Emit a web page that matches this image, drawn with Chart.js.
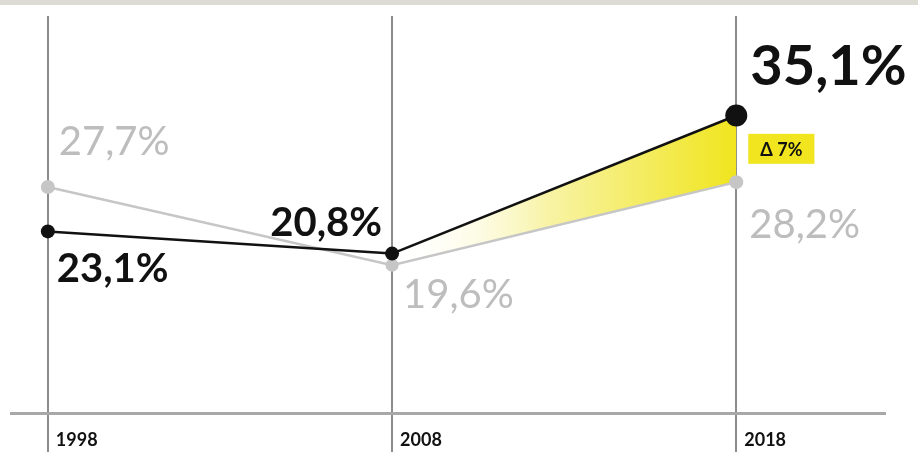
<!DOCTYPE html>
<html>
<head>
<meta charset="UTF-8">
<title>1998 – 2018</title>
<script src="https://cdn.jsdelivr.net/npm/chart.js"></script>
<style>
  html, body { margin: 0; padding: 0; background: #fff; }
  .wrap { position: relative; width: 918px; height: 452px; }
  .wrap canvas { display: block; }
  .band { position: absolute; left: 0; top: 0; width: 918px; height: 5px; background: #dcdcd5; }
</style>
</head>
<body>
<div class="wrap">
  <canvas id="chart" width="918" height="452"></canvas>
  <div class="band"></div>
</div>

<script>
const years = [1998, 2008, 2018];
const blackValues = [23.1, 20.8, 35.1];
const grayValues = [27.7, 19.6, 28.2];
const deltaText = 'Δ 7%';

const BLACK = '#111111';
const GRAY = '#c6c6c6';
const YELLOW = '#f0e51e';
const FONT = 'Lato, "Noto Sans", sans-serif';

// label placement per point: [textAlign, dx, dy(baseline), size, weight]
const blackLabelPos = [['left', 9, 51, 40, 'bold'], ['right', -10, -18, 40, 'bold'], ['left', 14, -30, 56, 'bold']];
const grayLabelPos = [['left', 11, -32, 40, 'normal'], ['left', 11, 43, 40, 'normal'], ['left', 13, 56, 40, 'normal']];

const fmt = v => v.toFixed(1).replace('.', ',') + '%';

const labelPlugin = {
    id: 'pointLabels',
    afterDatasetsDraw(chart) {
        const c = chart.ctx;
        c.save();
        c.textBaseline = 'alphabetic';
        chart.data.datasets.forEach((ds, di) => {
            const pts = chart.getDatasetMeta(di).data;
            const pos = di === 0 ? blackLabelPos : grayLabelPos;
            pts.forEach((p, i) => {
                const [align, dx, dy, size, weight] = pos[i];
                c.font = weight + ' ' + size + 'px ' + FONT;
                c.fillStyle = di === 0 ? BLACK : '#bdbdbd';
                c.textAlign = align;
                c.fillText(fmt(ds.data[i].y), p.x + dx, p.y + dy);
            });
        });

        // delta badge between the two 2018 points
        const last = years.length - 1;
        const pa = chart.getDatasetMeta(0).data[last];
        const pb = chart.getDatasetMeta(1).data[last];
        const midY = (pa.y + pb.y) / 2;
        c.font = 'bold 18px ' + FONT;
        const w = c.measureText(deltaText).width + 24;
        const h = 30;
        const left = pa.x + 12;
        c.fillStyle = YELLOW;
        c.fillRect(left, midY - h / 2, w, h);
        c.fillStyle = BLACK;
        c.textAlign = 'center';
        c.textBaseline = 'middle';
        c.fillText(deltaText, left + w / 2, midY + 1);
        c.restore();
    }
};

const ctx = document.getElementById('chart').getContext('2d');

const chart = new Chart(ctx, {
    type: 'line',
    data: {
        datasets: [{
            data: years.map((y, i) => ({ x: y, y: blackValues[i] })),
            borderColor: BLACK,
            borderWidth: 2.5,
            pointRadius: [7, 7, 11],
            pointBackgroundColor: BLACK,
            pointBorderWidth: 0,
            backgroundColor: 'rgba(0,0,0,0)',
            fill: { target: 1 },
            segment: {
                backgroundColor: sc => {
                    if (sc.p0DataIndex !== 1) return 'rgba(0,0,0,0)';
                    const g = sc.chart.ctx.createLinearGradient(sc.p0.x, 0, sc.p1.x, 0);
                    g.addColorStop(0, 'rgba(255,255,255,0)');
                    g.addColorStop(0.45, '#f8f3a6');
                    g.addColorStop(1, YELLOW);
                    return g;
                }
            }
        }, {
            data: years.map((y, i) => ({ x: y, y: grayValues[i] })),
            borderColor: GRAY,
            borderWidth: 2.5,
            pointRadius: [7, 6.5, 7],
            pointBackgroundColor: GRAY,
            pointBorderWidth: 0,
            fill: false
        }]
    },
    options: {
        responsive: false,
        animation: false,
        layout: { padding: { left: 9, right: 33, top: 16, bottom: 0 } },
        plugins: {
            legend: { display: false },
            tooltip: { enabled: false },
            filler: { drawTime: 'beforeDatasetsDraw' }
        },
        scales: {
            x: {
                type: 'linear',
                min: 1996.93,
                max: 2022.32,
                afterBuildTicks: s => { s.ticks = years.map(v => ({ value: v })); },
                afterFit: s => { s.height = 39; },
                grid: { color: '#8c8c8c', lineWidth: 2, tickLength: 39, drawTicks: true },
                border: { display: true, color: '#a8a8a8', width: 3 },
                ticks: {
                    font: { family: FONT, size: 18, weight: 'bold' },
                    color: BLACK,
                    align: 'start',
                    padding: -23,
                    labelOffset: 8,
                    callback: v => String(v)
                }
            },
            y: { display: false, min: 4.3, max: 45.4 }
        }
    },
    plugins: [labelPlugin]
});
</script>
</body>
</html>
